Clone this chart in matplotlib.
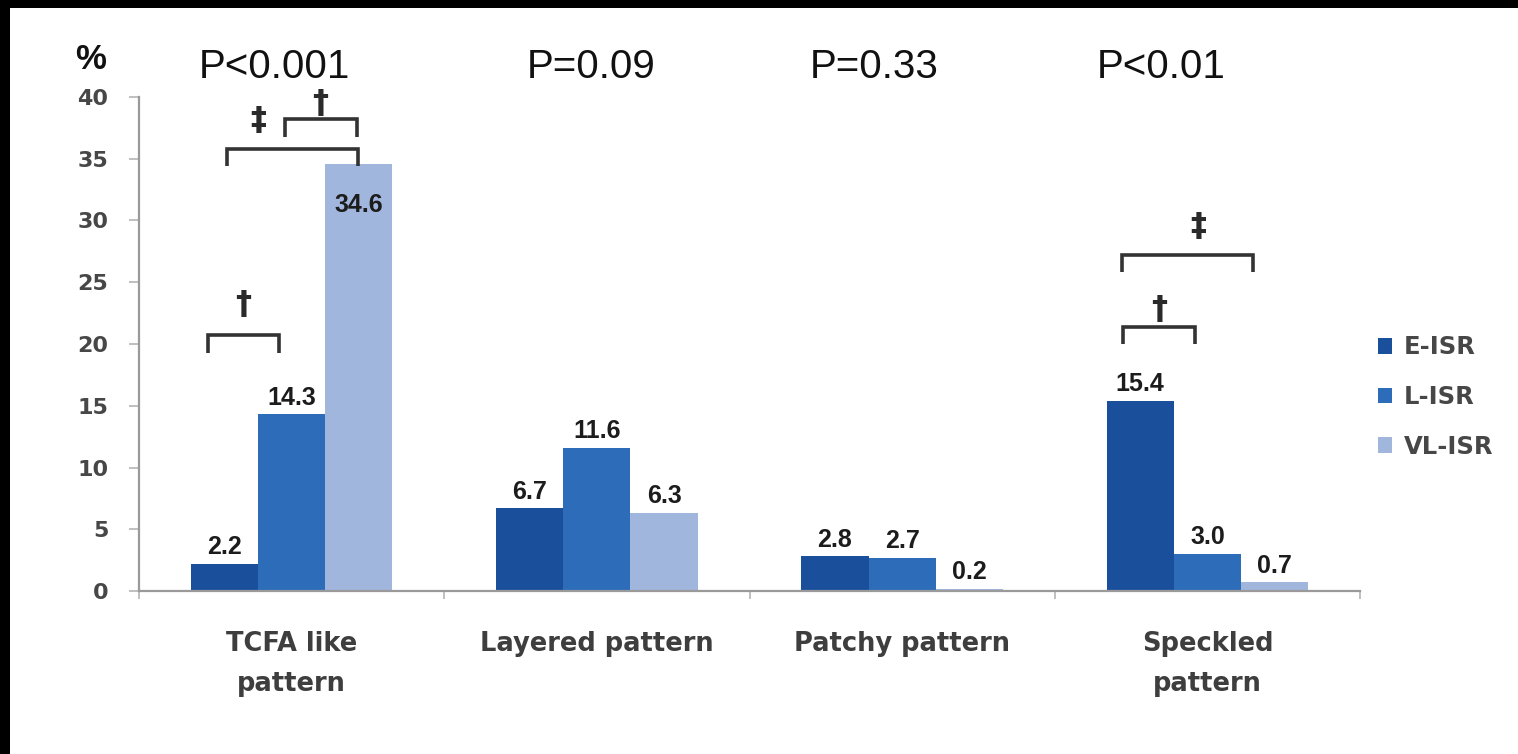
import matplotlib
matplotlib.use("Agg")
import matplotlib.pyplot as plt
from matplotlib.patches import Rectangle, Patch
import numpy as np

# ---- data ----
categories = ["TCFA like\npattern", "Layered pattern", "Patchy pattern", "Speckled\npattern"]
series_names = ["E-ISR", "L-ISR", "VL-ISR"]
e_isr = [2.2, 6.7, 2.8, 15.4]
l_isr = [14.3, 11.6, 2.7, 3.0]
vl_isr = [34.6, 6.3, 0.2, 0.7]
p_labels = ["P<0.001", "P=0.09", "P=0.33", "P<0.01"]
y_ticks = [0, 5, 10, 15, 20, 25, 30, 35, 40]

# significance brackets: (category, series a, series b, bracket height, symbol)
brackets = [
    (0, 0, 1, 20.7, "\u2020"),
    (0, 0, 2, 35.8, "\u2021"),
    (0, 1, 2, 38.2, "\u2020"),
    (3, 0, 1, 21.4, "\u2020"),
    (3, 0, 2, 27.2, "\u2021"),
]

# ---- style ----
colors = ["#1A4F9C", "#2C6CB8", "#A1B6DD"]
bar_w = 0.22
bold = "DejaVu Sans"
narrow = ["Liberation Sans Narrow", "Liberation Sans", "DejaVu Sans"]

fig = plt.figure(figsize=(15.18, 7.54), dpi=100, facecolor="white")
ax = fig.add_axes([139 / 1518, 163 / 754, 1221 / 1518, 494 / 754])

series = [e_isr, l_isr, vl_isr]
x = np.arange(len(categories))
offsets = [-bar_w, 0.0, bar_w]

for k, (vals, name) in enumerate(zip(series, series_names)):
    bars = ax.bar(x + offsets[k], vals, width=bar_w, color=colors[k],
                  label=name, zorder=2, linewidth=0)
    for rect, v in zip(bars, vals):
        cx = rect.get_x() + rect.get_width() / 2
        inside = v > 30
        ax.annotate(f"{v:.1f}", xy=(cx, v),
                    xytext=(0, -21 if inside else 7), textcoords="offset points",
                    ha="center", va="top" if inside else "baseline",
                    fontsize=18, fontweight="bold", family=narrow,
                    color="#1c1c1c", zorder=4)

ax.set_xlim(-0.5, len(categories) - 0.5)
ax.set_ylim(0, 40)

# axes appearance
for side in ("top", "right"):
    ax.spines[side].set_visible(False)
for side in ("left", "bottom"):
    ax.spines[side].set_color("#9a9a9a")
    ax.spines[side].set_linewidth(1.6)

ax.set_yticks(y_ticks)
ax.set_yticklabels([str(t) for t in y_ticks], fontsize=16, fontweight="bold",
                   family=bold, color="#474747")
ax.tick_params(axis="y", length=7, width=1.2, color="#b5b5b5", pad=15)

ax.set_xticks(np.arange(len(categories) + 1) - 0.5)
ax.set_xticklabels([])
ax.tick_params(axis="x", which="major", length=6, width=1.2, color="#b5b5b5")
ax.set_xticks(x, minor=True)
ax.set_xticklabels(categories, minor=True, fontsize=18.5, fontweight="bold",
                   family=bold, color="#3e3e3e", linespacing=1.7)
ax.tick_params(axis="x", which="minor", length=0, pad=29)

# percent sign above the y axis
ax.text(-0.66, 43.0, "%", fontsize=25, fontweight="bold", family="Liberation Sans",
        ha="center", va="center", color="#111111", clip_on=False)

# p-values above each category
p_x_shift = [-0.056, -0.02, -0.09, -0.15]
for i, lab in enumerate(p_labels):
    ax.text(x[i] + p_x_shift[i], 42.4, lab, fontsize=29, family="Liberation Sans",
            ha="center", va="center", color="#111111", clip_on=False)

# brackets with significance marks
end_shift = {(0, 0, 1): (-0.055, -0.04), (0, 0, 2): (0.007, -0.004),
             (0, 1, 2): (-0.023, -0.007), (3, 0, 1): (-0.055, -0.04),
             (3, 0, 2): (-0.06, -0.07)}
sym_pos = {(0, 0, 1): (None, 2.5), (0, 0, 2): (-0.11, 2.3),
           (0, 1, 2): (None, 1.25), (3, 0, 1): (None, 1.4), (3, 0, 2): (-0.03, 2.3)}
leg = 1.4
for cat, a, b, h, sym in brackets:
    s0, s1 = end_shift[(cat, a, b)]
    xa = x[cat] + offsets[a] + s0
    xb = x[cat] + offsets[b] + s1
    ax.plot([xa, xa, xb, xb], [h - leg, h, h, h - leg], color="#333333",
            lw=2.6, solid_capstyle="butt", solid_joinstyle="miter",
            zorder=3, clip_on=False)
    sx, dy = sym_pos[(cat, a, b)]
    sx = (xa + xb) / 2 if sx is None else x[cat] + sx
    ax.text(sx, h + dy, sym, fontsize=23, fontweight="bold", family=bold,
            ha="center", va="center", color="#2a2a2a", clip_on=False, zorder=3)

# legend at the right
handles = [Patch(facecolor=c, edgecolor="none", label=n) for c, n in zip(colors, series_names)]
fig.legend(handles=handles, loc="center left", bbox_to_anchor=(1356 / 1518, 357 / 754),
           frameon=False, handlelength=0.6, handleheight=0.6, handletextpad=0.45,
           labelspacing=1.05, prop={"family": bold, "weight": "bold", "size": 17.5},
           labelcolor="#474747")

# dark frame strips along the top and left edges
fig.patches.append(Rectangle((0, 1 - 8 / 754), 1, 8 / 754, transform=fig.transFigure,
                             facecolor="black", edgecolor="none", zorder=10))
fig.patches.append(Rectangle((0, 0), 10 / 1518, 1, transform=fig.transFigure,
                             facecolor="black", edgecolor="none", zorder=10))

fig.savefig("out.png", dpi=100, facecolor="white")
